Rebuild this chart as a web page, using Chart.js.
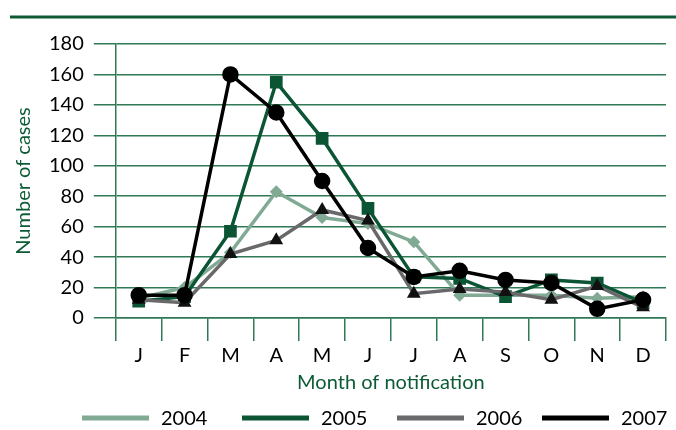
<!DOCTYPE html>
<html>
<head>
<meta charset="utf-8">
<script src="https://cdn.jsdelivr.net/npm/chart.js@4"></script>
<style>
  body { margin: 0; background: #fff; }
  #wrap { width: 676px; height: 430px; }
</style>
</head>
<body>
<div id="wrap"><canvas id="myChart" width="676" height="430"></canvas></div>
<script>
var months = ['J', 'F', 'M', 'A', 'M', 'J', 'J', 'A', 'S', 'O', 'N', 'D'];
var years = ['2004', '2005', '2006', '2007'];
var cases2004 = [13, 20, 43, 83, 66, 62, 50, 15, 15, 15, 13, 14];
var cases2005 = [11, 14, 57, 155, 118, 72, 27, 26, 14, 25, 23, 10];
var cases2006 = [12, 10, 42, 51, 71, 64, 16, 19, 17, 12, 21, 7];
var cases2007 = [15, 15, 160, 135, 90, 46, 27, 31, 25, 23, 6, 12];
var yTicks = [0, 20, 40, 60, 80, 100, 120, 140, 160, 180];

var green = '#0d5b36';
var gridGreen = '#2f7a55';

// thick rule across the top of the figure
var topRule = {
    id: 'topRule',
    beforeDraw: function(chart) {
        var ctx = chart.ctx;
        ctx.save();
        ctx.strokeStyle = green;
        ctx.lineWidth = 3;
        ctx.beginPath();
        ctx.moveTo(10, 17);
        ctx.lineTo(676, 17);
        ctx.stroke();
        ctx.restore();
    }
};

// legend drawn by hand: long thick swatches, one row along the bottom
var swatchX = [82, 242, 397, 542];
var lineLegend = {
    id: 'lineLegend',
    afterDraw: function(chart) {
        var ctx = chart.ctx;
        var y = 418;
        ctx.save();
        ctx.font = '20px Lato';
        ctx.textBaseline = 'middle';
        chart.data.datasets.forEach(function(ds, i) {
            var x = swatchX[i];
            ctx.fillStyle = ds.borderColor;
            ctx.fillRect(x, y - 2.5, 67, 5);
            ctx.fillStyle = '#000';
            ctx.fillText(ds.label, x + 79, y + 1);
        });
        ctx.restore();
    }
};

var ctx = document.getElementById('myChart').getContext('2d');
var myChart = new Chart(ctx, {
    type: 'line',
    data: {
        labels: months,
        datasets: [{
            label: years[0],
            data: cases2004,
            borderColor: '#80aa94',
            backgroundColor: '#80aa94',
            pointBackgroundColor: '#80aa94',
            pointBorderColor: '#80aa94',
            pointStyle: 'rectRot',
            pointRadius: 4,
            borderWidth: 3.5,
            lineTension: 0,
            order: 3
        }, {
            label: years[1],
            data: cases2005,
            borderColor: '#0b5434',
            backgroundColor: '#0b5434',
            pointBackgroundColor: '#0b5434',
            pointBorderColor: '#0b5434',
            pointStyle: 'rect',
            pointRadius: 6.5,
            borderWidth: 3.5,
            lineTension: 0,
            order: 2
        }, {
            label: years[2],
            data: cases2006,
            borderColor: '#69696b',
            backgroundColor: '#69696b',
            pointBackgroundColor: '#111',
            pointBorderColor: '#111',
            pointStyle: 'triangle',
            pointRadius: 4.5,
            borderWidth: 3.5,
            lineTension: 0,
            order: 1
        }, {
            label: years[3],
            data: cases2007,
            borderColor: '#000',
            backgroundColor: '#000',
            pointBackgroundColor: '#000',
            pointBorderColor: '#000',
            pointStyle: 'circle',
            pointRadius: 6.5,
            borderWidth: 3.5,
            lineTension: 0,
            order: 0
        }]
    },
    options: {
        responsive: false,
        animation: false,
        layout: { padding: { top: 44, left: 12, right: 0, bottom: 27 } },
        plugins: {
            tooltip: { enabled: false },
            legend: { display: false }
        },
        scales: {
            x: {
                offset: true,
                grid: {
                    offset: true,
                    drawOnChartArea: false,
                    drawTicks: true,
                    tickLength: 23,
                    color: gridGreen,
                    lineWidth: 1.5
                },
                border: { color: gridGreen, width: 1.5 },
                ticks: {
                    color: '#000',
                    padding: 3,
                    font: { family: 'Lato', size: 20 }
                },
                title: {
                    display: true,
                    text: 'Month of notification',
                    color: green,
                    padding: { top: 0, bottom: 8 },
                    font: { family: 'Lato', size: 20 }
                }
            },
            y: {
                min: 0,
                max: 180,
                afterBuildTicks: function(scale) {
                    scale.ticks = yTicks.map(function(v) { return { value: v }; });
                },
                grid: {
                    color: gridGreen,
                    lineWidth: 1.5,
                    tickLength: 22
                },
                border: { color: gridGreen, width: 1.5 },
                ticks: {
                    color: '#000',
                    padding: 10,
                    font: { family: 'Lato', size: 20 }
                },
                title: {
                    display: true,
                    text: 'Number of cases',
                    color: green,
                    padding: { top: 0, bottom: 3 },
                    font: { family: 'Lato', size: 20 }
                }
            }
        }
    },
    plugins: [topRule, lineLegend]
});
</script>
</body>
</html>
